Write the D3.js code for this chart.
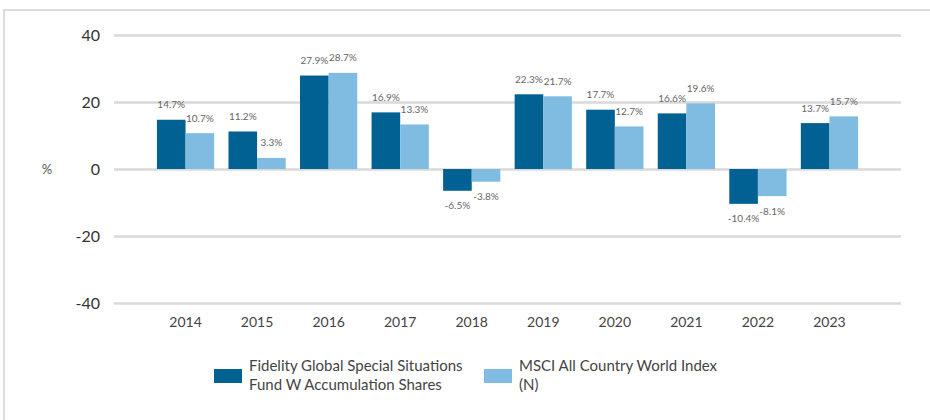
<!DOCTYPE html>
<html>
<head>
<meta charset="utf-8">
<script src="https://cdn.jsdelivr.net/npm/d3@7"></script>
<style>
    body { margin: 0; background: #fff; }
    text { font-family: "Lato", "Open Sans", sans-serif; }
</style>
</head>
<body>
<div class="chart"></div>
<script>
const width = 930,
    height = 420,
    margin = { top: 35, bottom: 117, left: 114, right: 29 };

// Data
const years = ["2014", "2015", "2016", "2017", "2018", "2019", "2020", "2021", "2022", "2023"];
const fundValues = [14.7, 11.2, 27.9, 16.9, -6.5, 22.3, 17.7, 16.6, -10.4, 13.7];
const indexValues = [10.7, 3.3, 28.7, 13.3, -3.8, 21.7, 12.7, 19.6, -8.1, 15.7];
const yTicks = [-40, -20, 0, 20, 40];
const seriesNames = [
    ["Fidelity Global Special Situations", "Fund W Accumulation Shares"],
    ["MSCI All Country World Index", "(N)"]
];
const colors = ["#006192", "#80bbe1"];

const series = [fundValues, indexValues];

const svg = d3.select(".chart")
    .append("svg")
    .attr("width", width)
    .attr("height", height);

// frame lines top & left
svg.append("line")
    .attr("x1", 3).attr("x2", width)
    .attr("y1", 10).attr("y2", 10)
    .attr("stroke", "#dcdcdc").attr("stroke-width", 2);
svg.append("line")
    .attr("x1", 4).attr("x2", 4)
    .attr("y1", 9).attr("y2", height)
    .attr("stroke", "#dcdcdc").attr("stroke-width", 2);

const x = d3.scaleBand()
    .domain(years)
    .range([margin.left, width - margin.right])
    .paddingInner(0.2)
    .paddingOuter(0.6);

const x1 = d3.scaleBand()
    .domain([0, 1])
    .range([0, x.bandwidth()]);

const y = d3.scaleLinear()
    .domain([-40, 40])
    .range([height - margin.bottom, margin.top]);

// gridlines + y labels (plain hyphen like the original)
const yAxis = d3.axisLeft(y)
    .tickValues(yTicks)
    .tickSize(-(width - margin.left - margin.right))
    .tickPadding(14)
    .tickFormat(d => String(d));

svg.append("g")
    .attr("class", "yAxis")
    .attr("transform", `translate(${margin.left}, 0)`)
    .call(yAxis)
    .call(g => g.select(".domain").remove())
    .call(g => g.selectAll(".tick line")
        .attr("stroke", "#d9d9d9")
        .attr("stroke-width", 2.5))
    .call(g => g.selectAll(".tick text")
        .attr("fill", "#333")
        .attr("font-size", 16));

svg.append("text")
    .text("%")
    .attr("x", 47)
    .attr("y", y(0))
    .attr("dy", "0.35em")
    .attr("text-anchor", "middle")
    .attr("fill", "#555")
    .attr("font-size", 13);

// x labels
const xAxis = d3.axisBottom(x).tickSize(0).tickPadding(14);
svg.append("g")
    .attr("class", "xAxis")
    .attr("transform", `translate(0, ${y(-40)})`)
    .call(xAxis)
    .call(g => g.select(".domain").remove())
    .call(g => g.selectAll(".tick text")
        .attr("fill", "#444")
        .attr("font-size", 14));

// bars
const groups = svg.selectAll("g.year")
    .data(years)
    .join("g")
    .attr("class", "year")
    .attr("transform", d => `translate(${x(d)}, 0)`);

groups.selectAll("rect")
    .data((d, i) => series.map((s, k) => ({ k: k, v: s[i] })))
    .join("rect")
    .attr("x", d => x1(d.k))
    .attr("width", x1.bandwidth())
    .attr("y", d => y(Math.max(0, d.v)))
    .attr("height", d => Math.abs(y(d.v) - y(0)))
    .attr("fill", d => colors[d.k]);

groups.selectAll("text.val")
    .data((d, i) => series.map((s, k) => ({ k: k, v: s[i] })))
    .join("text")
    .attr("class", "val")
    .attr("x", d => x1(d.k) + x1.bandwidth() / 2)
    .attr("y", d => d.v >= 0 ? y(d.v) - 15 : y(d.v) + 15)
    .attr("dy", "0.35em")
    .attr("text-anchor", "middle")
    .attr("fill", "#666")
    .attr("font-size", 10)
    .text(d => d.v.toFixed(1) + "%");

// legend
const legendX = [214, 484];
const legend = svg.selectAll("g.legend")
    .data(seriesNames)
    .join("g")
    .attr("class", "legend")
    .attr("transform", (d, i) => `translate(${legendX[i]}, 369)`);

legend.append("rect")
    .attr("width", 28)
    .attr("height", 14)
    .attr("fill", (d, i) => colors[i]);

legend.append("text")
    .attr("y", 2)
    .attr("fill", "#444")
    .attr("font-size", 15)
    .selectAll("tspan")
    .data(d => d)
    .join("tspan")
    .attr("x", 35)
    .attr("dy", (d, i) => i === 0 ? 0 : 19)
    .text(d => d);
</script>
</body>
</html>
